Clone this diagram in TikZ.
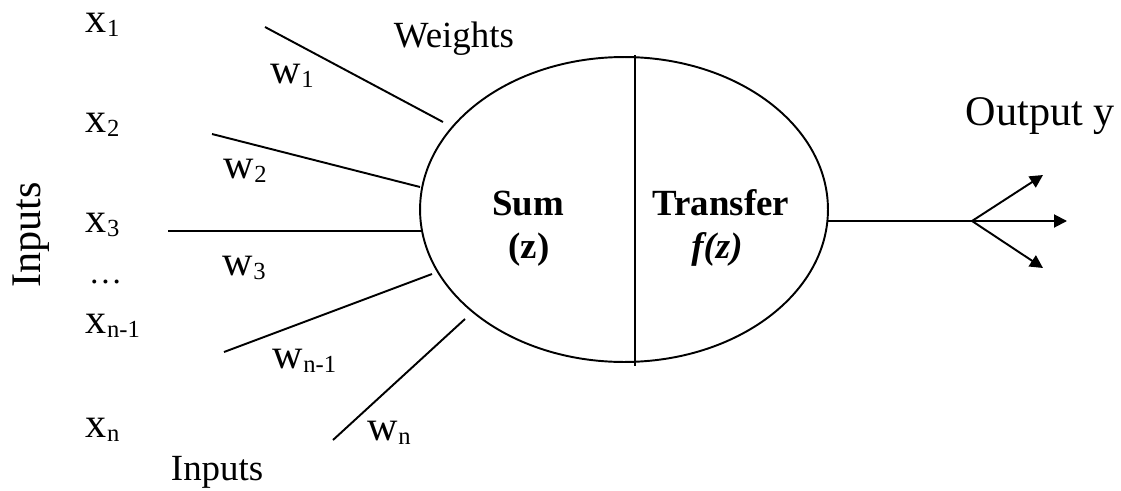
\documentclass[tikz,border=0pt]{standalone}
\usepackage{fontspec}
\setmainfont{Liberation Serif}
\usetikzlibrary{shapes.geometric,arrows.meta}

\newcommand{\idx}[2]{#1\raisebox{-2.8pt}{\fontsize{14}{14}\selectfont #2}}

\begin{document}
\begin{tikzpicture}[x=0.02cm, y=-0.02cm, line width=1.1pt,
  lab/.style={font=\fontsize{24}{24}\selectfont, inner sep=0, anchor=base west},
  word/.style={font=\fontsize{21}{21}\selectfont, inner sep=0, anchor=base west},
  inner/.style={font=\bfseries\fontsize{21}{21}\selectfont, inner sep=0, anchor=base},
  tip/.style={-{Triangle[length=0.26cm, width=0.26cm]}}]

  \useasboundingbox (0,0) rectangle (1121,490);

  % The neuron
  \node[draw, ellipse, inner sep=0, minimum width=8.16cm, minimum height=6.1cm] (cell) at (624,209.5) {};
  \coordinate (dtop) at (635,55);
  \coordinate (dbot) at (635,366);
  \draw (dtop) -- (dbot);
  \node[inner] (sum) at (528,215) {Sum};
  \node[inner] (sumz) at (529,258) {(z)};
  \node[inner] (trans) at (721,215) {Transfer};
  \node[inner] (fz) at (717,258) {\textit{f(z)}};

  % The inputs $x_i$
  \node[lab] (x1) at (85,32) {\idx{x}{1}};
  \node[lab] (x2) at (85,132) {\idx{x}{2}};
  \node[lab] (x3) at (85,232) {\idx{x}{3}};
  \node[lab, font=\fontsize{19}{19}\selectfont] (dots) at (88,283) {…};
  \node[lab] (xm) at (85,333) {\idx{x}{n-1}};
  \node[lab] (xn) at (85,437) {\idx{x}{n}};
  \node[word, font=\fontsize{24}{24}\selectfont, rotate=90, anchor=base] (inl) at (40,235) {Inputs};
  \node[word] (inb) at (170,480) {Inputs};

  % The weighted links $w_i$
  \coordinate (a1) at (265,27);  \coordinate (b1) at (443,122);
  \coordinate (a2) at (212,134); \coordinate (b2) at (420,187);
  \coordinate (a3) at (168,231); \coordinate (b3) at (421,231);
  \coordinate (am) at (224,352); \coordinate (bm) at (432,274);
  \coordinate (an) at (333,440); \coordinate (bn) at (465,319);
  \draw (a1) -- (b1);
  \draw (a2) -- (b2);
  \draw (a3) -- (b3);
  \draw (am) -- (bm);
  \draw (an) -- (bn);
  \node[lab] (w1) at (270,83) {\idx{w}{1}};
  \node[lab] (w2) at (223,178) {\idx{w}{2}};
  \node[lab] (w3) at (222,275) {\idx{w}{3}};
  \node[lab] (wm) at (272,368) {\idx{w}{n-1}};
  \node[lab] (wn) at (367,440) {\idx{w}{n}};
  \node[word] (wts) at (393,47) {Weights};

  % The output $y$
  \coordinate (out) at (827,221);
  \coordinate (split) at (972,221);
  \coordinate (o1) at (1043,175);
  \coordinate (o2) at (1067,221);
  \coordinate (o3) at (1043,268);
  \draw (out) -- (split);
  \draw[tip] (split) -- (o1);
  \draw[tip] (split) -- (o2);
  \draw[tip] (split) -- (o3);
  \node[lab] (outl) at (965,125) {Output y};

\end{tikzpicture}
\end{document}
